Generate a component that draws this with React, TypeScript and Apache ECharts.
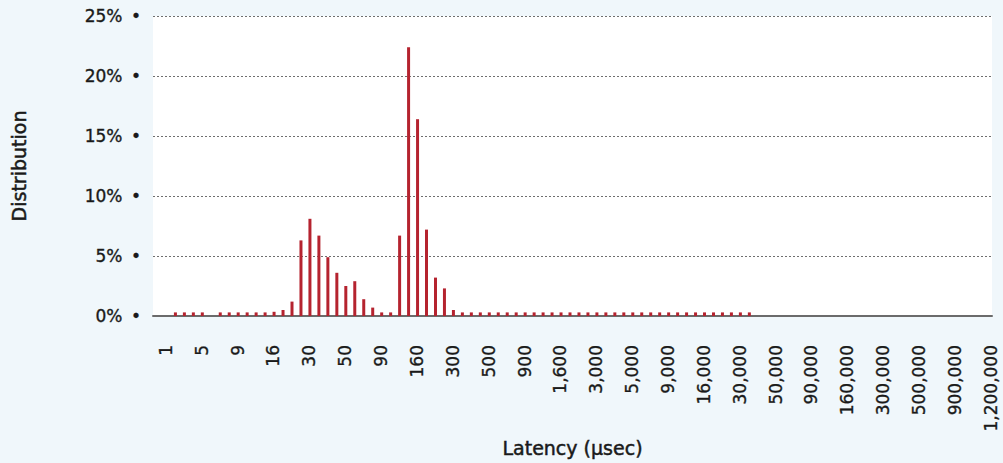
import React, { useEffect, useRef } from "react";
import * as echarts from "echarts";

const latencyBuckets: number[] = [
  1, 2, 3, 4, 5, 6, 7, 8, 9, 10, 12, 14, 16, 18, 20, 25, 30, 35, 40, 45, 50, 60, 70, 80, 90,
  100, 120, 140, 160, 180, 200, 250, 300, 350, 400, 450, 500, 600, 700, 800, 900,
  1000, 1200, 1400, 1600, 1800, 2000, 2500, 3000, 3500, 4000, 4500, 5000, 6000, 7000, 8000, 9000,
  10000, 12000, 14000, 16000, 18000, 20000, 25000, 30000, 35000, 40000, 45000, 50000,
  60000, 70000, 80000, 90000, 100000, 120000, 140000, 160000, 180000, 200000, 250000, 300000,
  350000, 400000, 450000, 500000, 600000, 700000, 800000, 900000, 1000000, 1050000, 1100000, 1200000,
];

const distributionPct: number[] = [
  0, 0, 0.3, 0.3, 0.3, 0.3, 0, 0.3, 0.3, 0.3, 0.3, 0.3, 0.3, 0.35, 0.5, 1.2, 6.3, 8.1, 6.7, 4.9,
  3.6, 2.5, 2.9, 1.4, 0.7, 0.3, 0.3, 6.7, 22.4, 16.4, 7.2, 3.2, 2.3, 0.5,
  0.3, 0.3, 0.3, 0.3, 0.3, 0.3, 0.3, 0.3, 0.3, 0.3, 0.3, 0.3, 0.3, 0.3, 0.3, 0.3, 0.3,
  0.3, 0.3, 0.3, 0.3, 0.3, 0.3, 0.3, 0.3, 0.3, 0.3, 0.3, 0.3, 0.3, 0.3, 0.3, 0.3,
  0, 0, 0, 0, 0, 0, 0, 0, 0, 0, 0, 0, 0, 0, 0, 0, 0, 0, 0, 0, 0, 0, 0, 0, 0, 0,
];

const yTicks = { min: 0, max: 25, interval: 5 };
const xAxisTitle = "Latency (µsec)";
const yAxisTitle = "Distribution";

export default function App() {
  const ref = useRef<HTMLDivElement>(null);
  useEffect(() => {
    if (!ref.current) return;
    const chart = echarts.init(ref.current, null, { renderer: "svg" });
    const font = "'DejaVu Sans', sans-serif";
    const ink = "#1a1a1a";
    const labelText = {
      fontFamily: font,
      fontSize: 17,
      color: ink,
      textBorderColor: ink,
      textBorderWidth: 0.35,
    };
    const titleText = {
      fontFamily: font,
      fontSize: 19,
      color: ink,
      textBorderColor: ink,
      textBorderWidth: 0.5,
    };
    chart.setOption({
      animation: false,
      backgroundColor: "#f0f7fb",
      grid: [
        {
          left: 153,
          top: 16,
          width: 834,
          height: 300,
          containLabel: false,
          outerBoundsMode: "none",
          show: false,
        },
        {
          left: 153,
          top: 16,
          width: 839,
          height: 300,
          containLabel: false,
          outerBoundsMode: "none",
          show: true,
          backgroundColor: "#ffffff",
          borderWidth: 0,
        },
      ],
      xAxis: [
        {
          type: "category",
          gridIndex: 0,
          data: latencyBuckets.map((v) => v.toLocaleString("en-US")),
          boundaryGap: true,
          axisLine: { show: false },
          axisTick: { show: false },
          axisLabel: {
            interval: 3,
            rotate: 90,
            margin: 29,
            verticalAlign: "top",
            lineHeight: 16.6,
            ...labelText,
          },
          splitLine: { show: false },
        },
        {
          type: "value",
          gridIndex: 1,
          min: 0,
          max: 1,
          name: xAxisTitle,
          nameLocation: "middle",
          nameGap: 122,
          nameTextStyle: titleText,
          axisLine: { show: true, onZero: false, lineStyle: { color: "#6b6b6b", width: 2 } },
          axisTick: { show: false },
          axisLabel: { show: false },
          splitLine: { show: false },
        },
      ],
      yAxis: [
        {
          type: "value",
          gridIndex: 0,
          min: yTicks.min,
          max: yTicks.max,
          interval: yTicks.interval,
          show: false,
          splitLine: { show: false },
        },
        {
          type: "value",
          gridIndex: 1,
          min: yTicks.min,
          max: yTicks.max,
          interval: yTicks.interval,
          name: yAxisTitle,
          nameLocation: "middle",
          nameGap: 125,
          nameTextStyle: titleText,
          axisLine: { show: false },
          axisTick: { show: false },
          axisLabel: {
            margin: 12,
            formatter: (v: number) => `${v}%\u2002•`,
            ...labelText,
          },
          splitLine: { show: true, lineStyle: { color: "#6f6f6f", width: 1, type: [2, 2] } },
        },
      ],
      series: [
        {
          type: "bar",
          xAxisIndex: 0,
          yAxisIndex: 0,
          data: distributionPct,
          barWidth: 3,
          itemStyle: { color: "#b5232f" },
        },
      ],
    });
    return () => chart.dispose();
  }, []);
  return (
    <div
      ref={ref}
      style={{ position: "absolute", left: 0, top: 0, width: 1003, height: 463 }}
    />
  );
}
